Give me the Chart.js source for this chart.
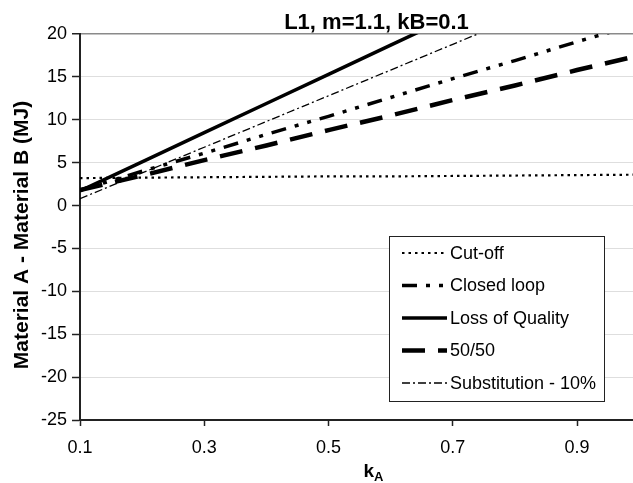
<!DOCTYPE html>
<html>
<head>
<meta charset="utf-8">
<title>L1, m=1.1, kB=0.1</title>
<script src="https://cdn.jsdelivr.net/npm/chart.js@4.4.1/dist/chart.umd.min.js"></script>
<style>
  html, body { margin: 0; padding: 0; background: #fff; overflow: hidden; }
  #wrap { position: relative; width: 633px; height: 483px; }
</style>
</head>
<body>
<div id="wrap"><canvas id="chart" width="633" height="483"></canvas></div>
<script>
// k_A values at which every scenario was evaluated
const kA = [0.1, 0.2, 0.3, 0.4, 0.5, 0.6, 0.7, 0.8, 0.9, 1.0];

// Material A - Material B (MJ) for each allocation scenario
const cutOff        = [3.2, 3.25, 3.3, 3.35, 3.4, 3.4, 3.45, 3.5, 3.55, 3.6];
const closedLoop    = [1.8, 4.0, 6.1, 8.3, 10.4, 12.6, 14.8, 16.9, 19.1, 21.2];
const lossOfQuality = [1.7, 5.1, 8.5, 11.9, 15.3, 18.7, 22.1, 25.5, 28.9, 32.3];
const fiftyFifty    = [1.8, 3.5, 5.3, 7.0, 8.8, 10.5, 12.3, 14.0, 15.8, 17.5];
const substitution  = [0.8, 3.8, 6.8, 9.8, 12.8, 15.8, 18.8, 21.8, 24.8, 27.8];

const seriesNames = ['Cut-off', 'Closed loop', 'Loss of Quality', '50/50', 'Substitution - 10%'];

// Axis ticks
const xTickValues = [0.1, 0.3, 0.5, 0.7, 0.9];
const xTickLabels = ['0.1', '0.3', '0.5', '0.7', '0.9'];
const yTickValues = [-25, -20, -15, -10, -5, 0, 5, 10, 15, 20];

const chartTitle = 'L1, m=1.1, kB=0.1';
const yTitle = 'Material A - Material B (MJ)';
const xTitleMain = 'k';
const xTitleSub = 'A';

const FONT = "'Liberation Sans', Arial, Helvetica, sans-serif";

function points(values) {
  return kA.map((k, i) => ({ x: k, y: values[i] }));
}

const styles = [
  { width: 2.2, dash: [2.5, 4] },
  { width: 3.5, dash: [15, 9, 4, 9, 4, 9] },
  { width: 3.5, dash: [] },
  { width: 4.5, dash: [23, 13] },
  { width: 1.3, dash: [8, 3, 2, 3] }
];
const seriesValues = [cutOff, closedLoop, lossOfQuality, fiftyFifty, substitution];

const datasets = seriesValues.map((vals, i) => ({
  label: seriesNames[i],
  data: points(vals),
  borderColor: '#000',
  backgroundColor: '#000',
  borderWidth: styles[i].width,
  borderDash: styles[i].dash,
  borderCapStyle: 'butt',
  pointRadius: 0,
  pointHoverRadius: 0,
  tension: 0,
  fill: false,
  clip: 0
}));

// Title, axis titles and the framed legend inside the plot area
const decorations = {
  id: 'decorations',
  afterDraw(chart) {
    const { ctx, chartArea: a } = chart;
    ctx.save();
    ctx.fillStyle = '#000';

    // chart title
    ctx.font = `bold 22px ${FONT}`;
    ctx.textAlign = 'center';
    ctx.textBaseline = 'alphabetic';
    ctx.fillText(chartTitle, a.left + (a.right - a.left) / 2 + 20, 29);

    // y axis title
    ctx.save();
    ctx.translate(22, (a.top + a.bottom) / 2 + 8);
    ctx.rotate(-Math.PI / 2);
    ctx.font = `bold 21px ${FONT}`;
    ctx.textAlign = 'center';
    ctx.textBaseline = 'middle';
    ctx.fillText(yTitle, 0, 0);
    ctx.restore();

    // x axis title with subscript
    ctx.font = `bold 19px ${FONT}`;
    const wMain = ctx.measureText(xTitleMain).width;
    ctx.font = `bold 13px ${FONT}`;
    const wSub = ctx.measureText(xTitleSub).width;
    const xStart = a.left + (a.right - a.left) / 2 + 17 - (wMain + wSub) / 2;
    ctx.textAlign = 'left';
    ctx.font = `bold 19px ${FONT}`;
    ctx.fillText(xTitleMain, xStart, 477);
    ctx.font = `bold 13px ${FONT}`;
    ctx.fillText(xTitleSub, xStart + wMain, 481);

    // legend
    const boxR = a.right - 29, boxB = a.bottom - 19;
    const boxW = 215, boxH = 165;
    const boxL = boxR - boxW, boxT = boxB - boxH;
    ctx.fillStyle = '#fff';
    ctx.fillRect(boxL, boxT, boxW, boxH);
    ctx.strokeStyle = '#222';
    ctx.lineWidth = 1;
    ctx.strokeRect(boxL + 0.5, boxT + 0.5, boxW, boxH);

    ctx.font = `18px ${FONT}`;
    ctx.textBaseline = 'middle';
    ctx.textAlign = 'left';
    chart.data.datasets.forEach((ds, i) => {
      const y = boxT + 17 + i * 32.5;
      ctx.beginPath();
      ctx.strokeStyle = '#000';
      ctx.lineWidth = ds.borderWidth;
      ctx.lineCap = 'butt';
      ctx.setLineDash(ds.borderDash);
      ctx.moveTo(boxL + 13, y);
      ctx.lineTo(boxL + 58, y);
      ctx.stroke();
      ctx.setLineDash([]);
      ctx.fillStyle = '#000';
      ctx.fillText(ds.label, boxL + 61, y + 1);
    });
    ctx.restore();
  }
};

new Chart(document.getElementById('chart'), {
  type: 'line',
  data: { datasets },
  options: {
    responsive: false,
    animation: false,
    events: [],
    layout: { padding: { top: 34, right: 0, left: 0, bottom: 0 } },
    plugins: {
      legend: { display: false },
      title: { display: false },
      tooltip: { enabled: false }
    },
    scales: {
      x: {
        type: 'linear',
        min: 0.1,
        max: 0.99,
        afterBuildTicks(scale) {
          scale.ticks = xTickValues.map(v => ({ value: v }));
        },
        afterFit(scale) { scale.height = 63; },
        ticks: {
          color: '#000',
          font: { family: FONT, size: 18 },
          padding: 11,
          maxRotation: 0,
          autoSkip: false,
          callback(value) {
            const i = xTickValues.findIndex(v => Math.abs(v - value) < 1e-9);
            return i >= 0 ? xTickLabels[i] : '';
          }
        },
        grid: {
          drawOnChartArea: false,
          drawTicks: true,
          tickLength: 6,
          tickColor: '#222',
          tickWidth: 1.5
        },
        border: { color: '#222', width: 2 }
      },
      y: {
        min: -25,
        max: 20,
        afterBuildTicks(scale) {
          scale.ticks = yTickValues.map(v => ({ value: v }));
        },
        afterFit(scale) { scale.width = 80; },
        ticks: {
          color: '#000',
          font: { family: FONT, size: 18 },
          padding: 5
        },
        grid: {
          color(ctx) { return ctx.tick && ctx.tick.value === 20 ? '#8a8a8a' : '#dedede'; },
          lineWidth(ctx) { return ctx.tick && ctx.tick.value === 20 ? 1.5 : 1; },
          tickColor: '#222',
          tickLength: 8,
          tickWidth: 1.5
        },
        border: { color: '#222', width: 2 }
      }
    }
  },
  plugins: [decorations]
});
</script>
</body>
</html>
